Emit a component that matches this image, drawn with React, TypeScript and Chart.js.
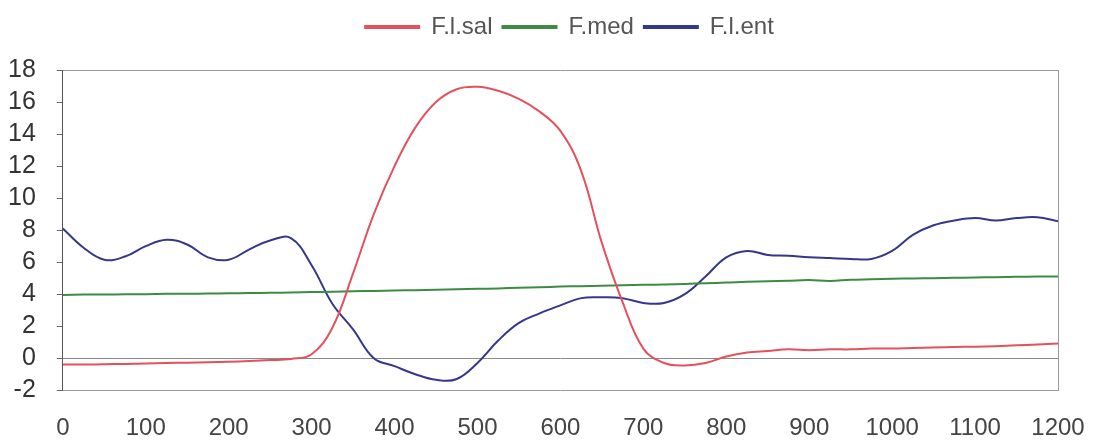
import React, { useEffect, useRef } from "react";
import { Chart, registerables } from "chart.js";

Chart.register(...registerables);

const xValues = [
  0, 25, 50, 75, 100, 125, 150, 175, 200, 225, 250, 275, 300, 325, 350, 375, 400, 425, 450, 475,
  500, 525, 550, 575, 600, 625, 650, 675, 700, 725, 750, 775, 800, 825, 850, 875, 900, 925, 950, 975,
  1000, 1025, 1050, 1075, 1100, 1125, 1150, 1175, 1200,
];

const flSal = [
  -0.4, -0.4, -0.38, -0.36, -0.33, -0.3, -0.28, -0.25, -0.22, -0.18, -0.12, -0.05, 0.25, 1.9, 5.3, 9.0, 12.0, 14.4, 16.0, 16.8,
  16.95, 16.7, 16.2, 15.4, 14.2, 11.7, 7.2, 3.5, 0.6, -0.3, -0.45, -0.3, 0.1, 0.35, 0.45, 0.55, 0.5, 0.55, 0.55, 0.6,
  0.6, 0.63, 0.66, 0.7, 0.72, 0.75, 0.8, 0.85, 0.92,
];

const fMed = [
  3.95, 3.97, 3.98, 3.99, 4.0, 4.02, 4.02, 4.04, 4.05, 4.07, 4.08, 4.1, 4.13, 4.15, 4.18, 4.2, 4.23, 4.25, 4.28, 4.3,
  4.33, 4.36, 4.4, 4.43, 4.47, 4.5, 4.52, 4.55, 4.58, 4.6, 4.64, 4.68, 4.72, 4.78, 4.8, 4.84, 4.88, 4.82, 4.9, 4.93,
  4.96, 4.98, 5.0, 5.02, 5.04, 5.06, 5.08, 5.1, 5.1,
];

const flEnt = [
  8.1, 6.9, 6.15, 6.35, 7.0, 7.4, 7.1, 6.3, 6.15, 6.8, 7.35, 7.5, 5.8, 3.4, 1.8, 0.0, -0.5, -1.0, -1.35, -1.3,
  -0.3, 1.1, 2.2, 2.8, 3.3, 3.75, 3.8, 3.75, 3.45, 3.45, 4.0, 5.1, 6.3, 6.7, 6.45, 6.4, 6.3, 6.25, 6.2, 6.2,
  6.7, 7.7, 8.3, 8.6, 8.75, 8.6, 8.75, 8.8, 8.55,
];

const seriesNames = ["F.l.sal", "F.med", "F.l.ent"];
const yTicks = [-2, 0, 2, 4, 6, 8, 10, 12, 14, 16, 18];

const toPoints = (ys: number[]) => xValues.map((x, i) => ({ x, y: ys[i] }));

export default function App() {
  const canvasRef = useRef<HTMLCanvasElement | null>(null);

  useEffect(() => {
    if (!canvasRef.current) return;
    const framePlugin = {
      id: "frame",
      beforeInit(chart: any) {
        const legend = chart.legend;
        if (legend && !legend.__patched) {
          const fit = legend.fit;
          legend.fit = function () {
            fit.call(this);
            this.height += 21;
          };
          legend.__patched = true;
        }
      },
      afterLayout(chart: any) {
        const legend = chart.legend;
        if (legend) {
          legend.left += 47;
          legend.right += 47;
        }
      },
      beforeDatasetsDraw(chart: any) {
        const { ctx, chartArea } = chart;
        ctx.save();
        ctx.strokeStyle = "#9a9a9a";
        ctx.lineWidth = 1;
        ctx.beginPath();
        ctx.moveTo(chartArea.left, chartArea.top + 0.5);
        ctx.lineTo(chartArea.right, chartArea.top + 0.5);
        ctx.moveTo(chartArea.right + 0.5, chartArea.top);
        ctx.lineTo(chartArea.right + 0.5, chartArea.bottom);
        ctx.stroke();
        ctx.restore();
      },
    };
    const colors = ["#e4515c", "#3f8a43", "#35388a"];
    const data = [flSal, fMed, flEnt];
    const chart = new Chart(canvasRef.current, {
      type: "line",
      data: {
        datasets: seriesNames.map((name, i) => ({
          label: name,
          data: toPoints(data[i]),
          borderColor: colors[i],
          backgroundColor: colors[i],
          borderWidth: 2,
          pointRadius: 0,
          tension: 0.4,
        })),
      },
      options: {
        animation: false,
        responsive: false,
        maintainAspectRatio: false,
        layout: { padding: { left: -13, right: 40, top: 5, bottom: -24 } },
        plugins: {
          tooltip: { enabled: false },
          legend: {
            display: true,
            position: "top",
            labels: {
              boxWidth: 54,
              boxHeight: 2,
              padding: 10,
              color: "#555",
              font: { family: "'Liberation Sans', Arial, sans-serif", size: 24 },
            },
          },
        },
        scales: {
          x: {
            type: "linear",
            min: 0,
            max: 1200,
            afterFit: (axis: any) => {
              axis.paddingRight = 0;
            },
            ticks: {
              stepSize: 100,
              color: "#444",
              padding: 24,
              maxRotation: 0,
              autoSkip: false,
              callback: (v: any) => String(v),
              font: { family: "'Liberation Sans', Arial, sans-serif", size: 24 },
            },
            grid: { display: false, drawTicks: false },
            border: { display: true, color: "#9a9a9a", width: 1 },
          },
          y: {
            type: "linear",
            min: -2,
            max: 18,
            afterBuildTicks: (axis: any) => {
              axis.ticks = yTicks.map((v) => ({ value: v }));
            },
            ticks: {
              color: "#333",
              padding: 21,
              autoSkip: false,
              font: { family: "'Liberation Sans', Arial, sans-serif", size: 25 },
            },
            grid: {
              display: true,
              drawOnChartArea: true,
              drawTicks: true,
              tickLength: 6,
              color: (c: any) => (c.tick && c.tick.value === 0 ? "#8a8a8a" : "rgba(0,0,0,0)"),
              tickColor: "#666",
            },
            border: { display: true, color: "#555", width: 1 },
          },
        },
      },
      plugins: [framePlugin],
    });
    return () => chart.destroy();
  }, []);

  return (
    <div style={{ position: "fixed", left: 0, top: 0, width: 1098, height: 443, background: "#fff" }}>
      <canvas ref={canvasRef} width={1098} height={443} style={{ display: "block" }} />
    </div>
  );
}
